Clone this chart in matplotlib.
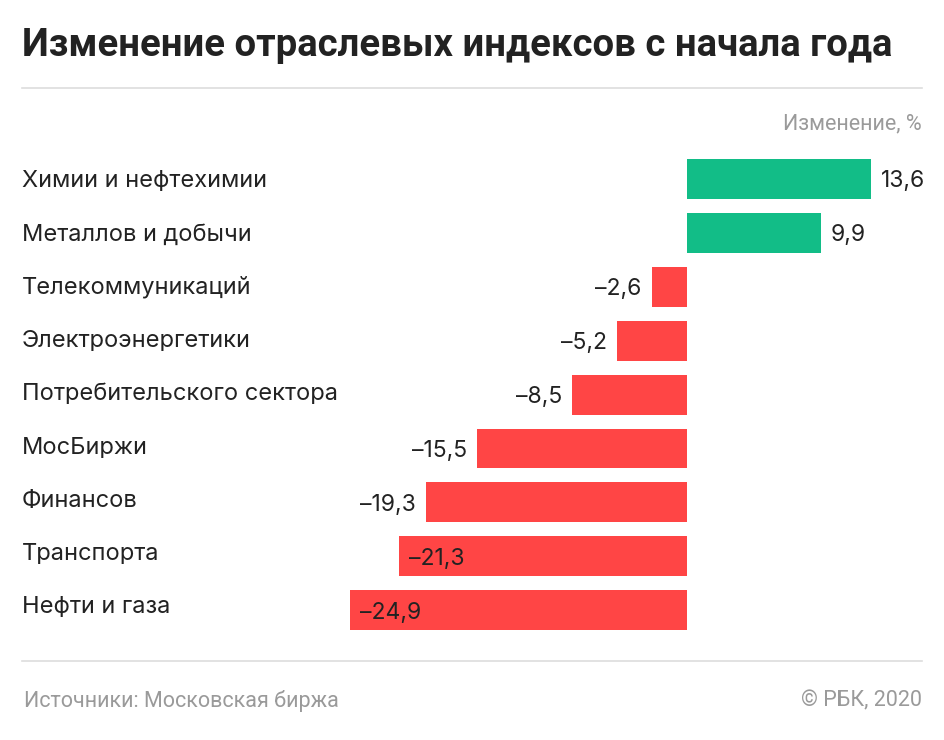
import matplotlib.pyplot as plt
from matplotlib.lines import Line2D

categories = ['Химии и нефтехимии', 'Металлов и добычи', 'Телекоммуникаций',
              'Электроэнергетики', 'Потребительского сектора', 'МосБиржи',
              'Финансов', 'Транспорта', 'Нефти и газа']
values = [13.6, 9.9, -2.6, -5.2, -8.5, -15.5, -19.3, -21.3, -24.9]
inside_labels = ['Транспорта', 'Нефти и газа']

W, H = 945, 740
fig = plt.figure(figsize=(W / 100, H / 100), dpi=100)


def fx(px):
    return px / W


def fy(py):
    return 1 - py / H


# axes in pixel layout: zero at x=687, 13.53 px per unit
ax = fig.add_axes([fx(22), fy(640), fx(900), 500 / H])
scale = 13.53
row = 53.9
ax.set_xlim((22 - 687) / scale, (922 - 687) / scale)
ax.set_ylim((640 - 179) / row, (140 - 179) / row)
ax.axis('off')

green = '#12bd87'
red = '#ff4545'
pos = list(range(len(categories)))
colors = [green if v > 0 else red for v in values]
ax.barh(pos, values, height=0.74, color=colors, zorder=2)

fs = 17
lbl_font = dict(family=['Inter', 'DejaVu Sans'], fontsize=fs, color='#222222')
val_font = dict(family=['Inter', 'DejaVu Sans'], fontsize=16.5, color='#222222')
# baseline offset so that capital letters are centred on the bar
dy = 16.5 * 100 / 72 * 0.727 / 2 / row
# category labels sit on a slightly tighter grid than the bars
lab_step = 53.25 / row
xmin = ax.get_xlim()[0]
for i, (cat, v) in enumerate(zip(categories, values)):
    ax.text(xmin, i * lab_step + dy, cat, ha='left', va='baseline', **lbl_font)
    s = f'{abs(v):.1f}'.replace('.', ',')
    if v < 0:
        s = '\u2013' + s
    off = 10 / scale
    if v > 0:
        ax.text(v + off, i + dy, s, ha='left', va='baseline', **val_font)
    elif cat in inside_labels:
        ax.text(v + off, i + dy, s, ha='left', va='baseline', **val_font)
    else:
        ax.text(v - off, i + dy, s, ha='right', va='baseline', **val_font)

fig.text(fx(22), fy(45), 'Изменение отраслевых индексов с начала года',
         ha='left', va='center', fontsize=27.5, fontweight='bold',
         family=['Roboto', 'DejaVu Sans'], color='#222222')
fig.add_artist(Line2D([fx(22), fx(922)], [fy(88), fy(88)], color='#dddddd', lw=1.2))
fig.add_artist(Line2D([fx(22), fx(922)], [fy(661), fy(661)], color='#dddddd', lw=1.2))

gray = dict(family=['Roboto', 'DejaVu Sans'], fontsize=15.5, color='#9a9a9a')
fig.text(fx(922), fy(124), 'Изменение, %', ha='right', va='center', **gray)
fig.text(fx(24), fy(701), 'Источники: Московская биржа', ha='left', va='center', **gray)
fig.text(fx(922), fy(701), '© РБК, 2020', ha='right', va='center', **gray)

fig.savefig('out.png', dpi=100, facecolor='white')
